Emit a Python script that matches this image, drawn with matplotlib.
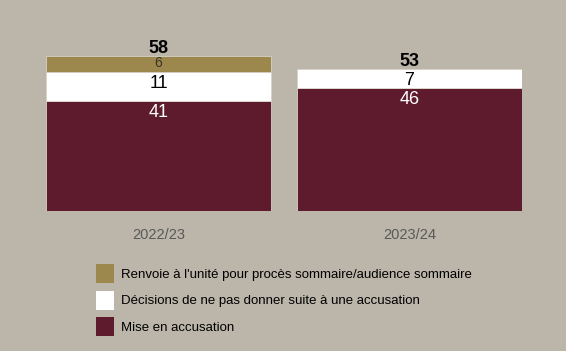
import matplotlib
matplotlib.use('Agg')
import matplotlib.pyplot as plt
from matplotlib.patches import Patch

# données
years = ['2022/23', '2023/24']
mise_en_accusation = [41, 46]
decisions_non_suite = [11, 7]
renvoie = [6, 0]
totals = [58, 53]

labels = ['Renvoie à l\'unité pour procès sommaire/audience sommaire',
          'Décisions de ne pas donner suite à une accusation',
          'Mise en accusation']

bg = '#BCB6AA'
c_gold = '#9C884D'
c_white = '#FFFFFF'
c_maroon = '#5E1B2E'

plt.rcParams['font.family'] = ['Liberation Sans', 'DejaVu Sans']

fig = plt.figure(figsize=(5.66, 3.51), dpi=100, facecolor=bg)
ax = fig.add_axes([46 / 566, 1 - 211 / 351, 476 / 566, 155 / 351])
ax.set_facecolor(bg)

x = [0, 1]
w = 0.896
ax.bar(x, mise_en_accusation, w, color=c_maroon, edgecolor='#D8D2C8', linewidth=0.6)
ax.bar(x, decisions_non_suite, w, bottom=mise_en_accusation, color=c_white,
       edgecolor='#D8D2C8', linewidth=0.6)
bottom3 = [a + b for a, b in zip(mise_en_accusation, decisions_non_suite)]
ax.bar(x, renvoie, w, bottom=bottom3, color=c_gold, edgecolor='#D8D2C8', linewidth=0.6)

# étiquettes des segments
for i in range(len(x)):
    ax.annotate(str(mise_en_accusation[i]), (x[i], mise_en_accusation[i]),
                xytext=(0, -2), textcoords='offset points', ha='center', va='top',
                color='white', fontsize=13)
    ax.annotate(str(decisions_non_suite[i]), (x[i], bottom3[i]),
                xytext=(0, -2), textcoords='offset points', ha='center', va='top',
                color='black', fontsize=13)
    if renvoie[i]:
        ax.annotate(str(renvoie[i]), (x[i], totals[i]),
                    xytext=(0, 0), textcoords='offset points', ha='center', va='top',
                    color='#3A3428', fontsize=10)
    ax.annotate(str(totals[i]), (x[i], totals[i]),
                xytext=(0, -0.5), textcoords='offset points', ha='center', va='bottom',
                color='black', fontsize=13, fontweight='bold', annotation_clip=False)

ax.set_xlim(-w / 2, 1 + w / 2)
ax.set_ylim(0, 58)
ax.set_xticks(x)
ax.set_xticklabels(years, color='#595959', fontsize=10.5)
ax.tick_params(axis='x', length=0, pad=12)
ax.set_yticks([])
for s in ax.spines.values():
    s.set_visible(False)

handles = [Patch(facecolor=c_gold), Patch(facecolor=c_white), Patch(facecolor=c_maroon)]
fig.legend(handles, labels, loc='upper left', bbox_to_anchor=(96 / 566, 1 - 264 / 351),
           frameon=False, fontsize=9.5, handlelength=1.36, handleheight=1.84,
           handletextpad=0.55, labelspacing=0.58, borderpad=0, borderaxespad=0)

plt.savefig('out.png', dpi=100, facecolor=bg)
